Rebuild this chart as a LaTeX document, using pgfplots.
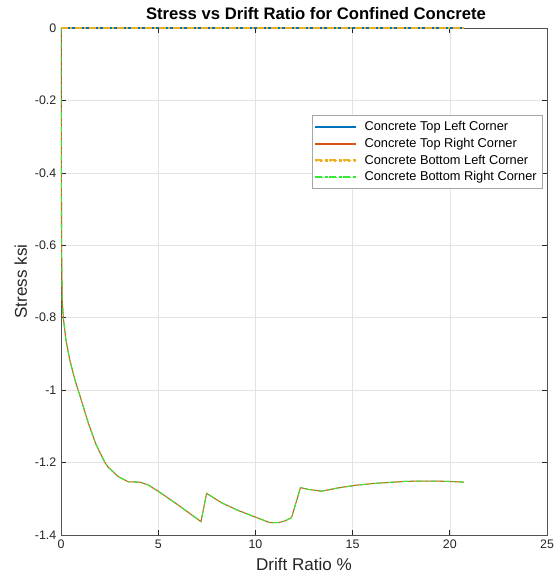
\documentclass[border=0pt]{standalone}
\usepackage{pgfplots}
\pgfplotsset{compat=1.18}
\usepackage{fontspec}
\setmainfont{Liberation Sans}
\definecolor{mblue}{rgb}{0,0.447,0.741}
\definecolor{morange}{rgb}{0.85,0.325,0.098}
\definecolor{myellow}{rgb}{0.929,0.694,0.125}
\definecolor{mgreen}{rgb}{0.2,0.92,0.2}
\definecolor{axgray}{rgb}{0.15,0.15,0.15}
\newcommand{\dashdotimg}[1]{%
  \fill[fill=#1] (0pt,-0.4pt) rectangle (5pt,0.4pt);
  \fill[fill=#1] (7pt,-0.4pt) rectangle (8.5pt,0.4pt);
  \fill[fill=#1] (10.5pt,-0.4pt) rectangle (15.5pt,0.4pt);
  \fill[fill=#1] (17.5pt,-0.4pt) rectangle (19pt,0.4pt);
  \fill[fill=#1] (21pt,-0.4pt) rectangle (26pt,0.4pt);
  \fill[fill=#1] (28pt,-0.4pt) rectangle (29.8pt,0.4pt);
  \path (34pt,0);}
\begin{document}
\begin{tikzpicture}
\useasboundingbox (-45.75pt,-35.25pt) rectangle (374.25pt,401.25pt);
\begin{axis}[
  at={(0,0)}, anchor=south west,
  scale only axis, width=364.5pt, height=380.25pt,
  xmin=0, xmax=25, ymin=-1.4, ymax=0,
  xtick={0,5,10,15,20,25},
  ytick={-1.4,-1.2,-1,-0.8,-0.6,-0.4,-0.2,0},
  yticklabels={-1.4,-1.2,-1,-0.8,-0.6,-0.4,-0.2,0},
  /pgf/number format/assume math mode=true,
  tick label style={font=\fontsize{9.3}{11}\selectfont, text=axgray},
  grid=major,
  major grid style={gray!22, line width=0.4pt},
  axis line style={axgray!80, line width=0.6pt},
  tick style={axgray, line width=0.5pt},
  tick align=inside,
  major tick length=3.5pt,
  title={\bfseries Stress vs Drift Ratio for Confined Concrete},
  title style={font=\fontsize{12.5}{14}\selectfont, yshift=-3pt, xshift=9pt},
  xlabel={Drift Ratio \%},
  ylabel={Stress ksi},
  label style={font=\fontsize{12.8}{14}\selectfont, text=axgray},
  xlabel style={yshift=0pt},
  ylabel style={yshift=-1pt},
  legend style={at={(rel axis cs:0.992,0.828)}, anchor=north east,
    font=\fontsize{9.6}{11}\selectfont, draw=gray!70, line width=0.6pt,
    row sep=0pt, inner sep=2.5pt},
  legend cell align=left,
]
\addplot[color=mblue, line width=0.8pt,
  legend image code/.code={\fill[fill=mblue] (0pt,-0.35pt) rectangle (29.8pt,0.35pt); \path (34pt,0);}] coordinates {(0,0) (20.73,0)};
\addlegendentry{Concrete Top Left Corner}
\addplot[color=morange, line width=0.8pt,
  legend image code/.code={\fill[fill=morange] (0pt,-0.35pt) rectangle (29.8pt,0.35pt); \path (34pt,0);}] coordinates {
(0,0) (0.01,-0.2) (0.02,-0.4) (0.03,-0.6) (0.06,-0.75) (0.12,-0.8) (0.25,-0.86) (0.45,-0.917) (0.72,-0.972)
(1.0,-1.02) (1.4,-1.09) (1.8,-1.15) (2.26,-1.2) (2.43,-1.213) (2.95,-1.239) (3.46,-1.253)
(4.06,-1.254) (4.49,-1.262) (5.0,-1.279) (6.1,-1.32) (7.2,-1.363) (7.49,-1.285) (8.26,-1.311)
(9.1,-1.332) (9.97,-1.35) (10.75,-1.366) (11.17,-1.366) (11.52,-1.361) (11.86,-1.352)
(12.32,-1.269) (12.72,-1.274) (13.4,-1.279) (14.26,-1.27) (15.12,-1.263) (16.0,-1.258)
(16.83,-1.255) (17.7,-1.252) (18.54,-1.251) (19.2,-1.251) (19.9,-1.252) (20.73,-1.254)};
\addlegendentry{Concrete Top Right Corner}
\addplot[color=myellow, line width=0.8pt, dash pattern=on 5pt off 2pt on 1.5pt off 2pt,
  legend image code/.code={\dashdotimg{myellow}}] coordinates {(0,0) (20.73,0)};
\addlegendentry{Concrete Bottom Left Corner}
\addplot[color=mgreen, line width=0.8pt, dash pattern=on 5pt off 2pt on 1.5pt off 2pt,
  legend image code/.code={\dashdotimg{mgreen}}] coordinates {
(0,0) (0.01,-0.2) (0.02,-0.4) (0.03,-0.6) (0.06,-0.75) (0.12,-0.8) (0.25,-0.86) (0.45,-0.917) (0.72,-0.972)
(1.0,-1.02) (1.4,-1.09) (1.8,-1.15) (2.26,-1.2) (2.43,-1.213) (2.95,-1.239) (3.46,-1.253)
(4.06,-1.254) (4.49,-1.262) (5.0,-1.279) (6.1,-1.32) (7.2,-1.363) (7.49,-1.285) (8.26,-1.311)
(9.1,-1.332) (9.97,-1.35) (10.75,-1.366) (11.17,-1.366) (11.52,-1.361) (11.86,-1.352)
(12.32,-1.269) (12.72,-1.274) (13.4,-1.279) (14.26,-1.27) (15.12,-1.263) (16.0,-1.258)
(16.83,-1.255) (17.7,-1.252) (18.54,-1.251) (19.2,-1.251) (19.9,-1.252) (20.73,-1.254)};
\addlegendentry{Concrete Bottom Right Corner}
\end{axis}
\end{tikzpicture}
\end{document}
